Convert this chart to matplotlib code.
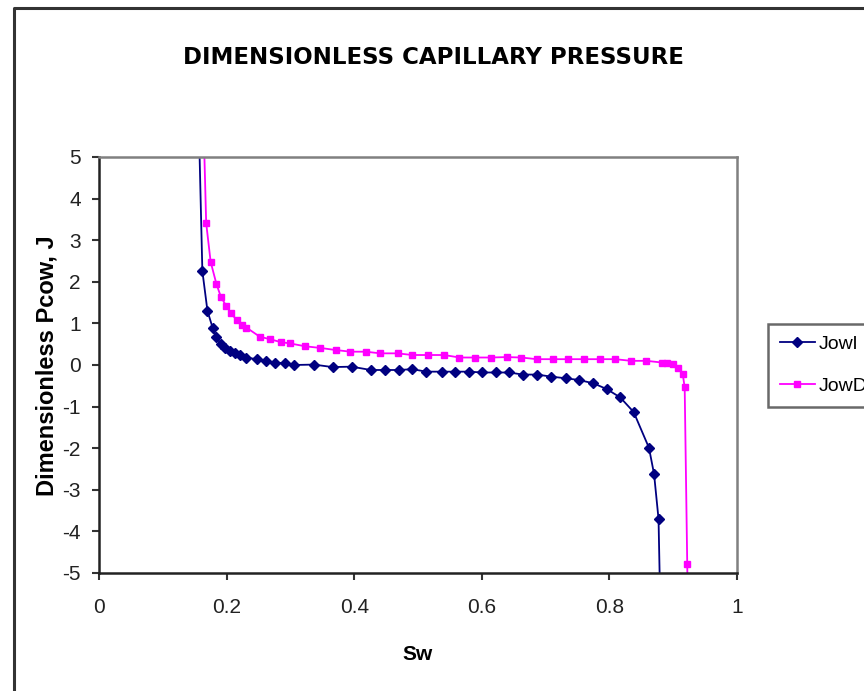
import matplotlib
matplotlib.use('Agg')
import matplotlib.pyplot as plt
from matplotlib.lines import Line2D

# Jowl (imbibition) curve
sw_i = [0.153, 0.162, 0.170, 0.178, 0.184, 0.191, 0.197, 0.205, 0.213, 0.221,
        0.230, 0.247, 0.261, 0.276, 0.292, 0.306, 0.337, 0.366, 0.396, 0.426,
        0.448, 0.470, 0.491, 0.513, 0.537, 0.558, 0.580, 0.601, 0.622, 0.643,
        0.664, 0.687, 0.709, 0.732, 0.752, 0.775, 0.796, 0.817, 0.838, 0.862,
        0.870, 0.877, 0.880]
j_i = [8.0, 2.26, 1.30, 0.90, 0.68, 0.50, 0.40, 0.34, 0.28, 0.24,
       0.18, 0.14, 0.10, 0.06, 0.04, 0.00, 0.01, -0.05, -0.04, -0.12,
       -0.12, -0.12, -0.10, -0.16, -0.16, -0.16, -0.16, -0.18, -0.18, -0.18,
       -0.23, -0.23, -0.28, -0.32, -0.36, -0.44, -0.58, -0.78, -1.13, -1.99,
       -2.62, -3.70, -6.0]

# JowD (drainage) curve
sw_d = [0.160, 0.168, 0.175, 0.184, 0.191, 0.199, 0.207, 0.216, 0.224, 0.231,
        0.252, 0.268, 0.285, 0.299, 0.323, 0.347, 0.371, 0.394, 0.418, 0.441,
        0.468, 0.491, 0.515, 0.541, 0.565, 0.589, 0.614, 0.639, 0.662, 0.686,
        0.712, 0.735, 0.760, 0.785, 0.809, 0.834, 0.858, 0.882, 0.890, 0.900,
        0.908, 0.915, 0.918, 0.922, 0.923]
j_d = [8.0, 3.41, 2.48, 1.95, 1.64, 1.43, 1.24, 1.08, 0.96, 0.90,
       0.68, 0.62, 0.55, 0.52, 0.45, 0.41, 0.36, 0.32, 0.32, 0.28,
       0.28, 0.24, 0.24, 0.24, 0.18, 0.18, 0.18, 0.19, 0.18, 0.14,
       0.14, 0.14, 0.14, 0.14, 0.14, 0.10, 0.10, 0.06, 0.06, 0.02,
       -0.08, -0.22, -0.54, -4.78, -6.0]

x_ticks = [0, 0.2, 0.4, 0.6, 0.8, 1]
y_ticks = [5, 4, 3, 2, 1, 0, -1, -2, -3, -4, -5]

W, H = 864, 691
fig = plt.figure(figsize=(W / 100, H / 100), dpi=100)
ax = fig.add_axes([99 / W, 1 - 573 / H, (737 - 99) / W, (573 - 157) / H])

l1, = ax.plot(sw_i, j_i, color='#000080', lw=1.3, marker='D', ms=5, label='Jowl')
l2, = ax.plot(sw_d, j_d, color='#FF00FF', lw=1.3, marker='s', ms=4.5, label='JowD')

ax.set_xlim(0, 1)
ax.set_ylim(-5, 5)
ax.set_xticks(x_ticks)
ax.set_xticklabels([f'{v:g}' for v in x_ticks])
ax.set_yticks(y_ticks)
ax.set_yticklabels([f'{v:g}' for v in y_ticks])

for lab in ax.get_xticklabels() + ax.get_yticklabels():
    lab.set_fontfamily('Liberation Sans')
    lab.set_fontsize(15)
ax.tick_params(direction='out', length=5, width=1.5, colors='#333333', labelcolor='#222222')
ax.tick_params(axis='x', pad=13)
ax.tick_params(axis='y', pad=8)

for s in ['left', 'bottom']:
    ax.spines[s].set_color('#222222')
    ax.spines[s].set_linewidth(1.8)
for s in ['top', 'right']:
    ax.spines[s].set_color('#808080')
    ax.spines[s].set_linewidth(1.8)

fig.text(433 / W, 1 - 57 / H, 'DIMENSIONLESS CAPILLARY PRESSURE', ha='center', va='center',
         fontsize=16.5, fontweight='bold', family='DejaVu Sans')
fig.text(418 / W, 1 - 655 / H, 'Sw', ha='center', va='center',
         fontsize=15, fontweight='bold', family='Liberation Sans')
fig.text(47 / W, 1 - 366 / H, 'Dimensionless Pcow, J', ha='center', va='center', rotation=90,
         fontsize=17, fontweight='bold', family='Liberation Sans')

leg = fig.legend(handles=[l1, l2], loc='upper left', bbox_to_anchor=(768 / W, 1 - 324 / H),
                 borderaxespad=0, frameon=True, fancybox=False,
                 prop=dict(family='Liberation Sans', size=14),
                 handlelength=1.8, borderpad=0.6, labelspacing=1.25, handletextpad=0.2)
leg.get_frame().set_edgecolor('#444444')
leg.get_frame().set_linewidth(1.8)

# outer chart frame (cut off at right and bottom)
fig.add_artist(Line2D([14 / W, 14 / W, 1.0], [0.0, 1 - 8 / H, 1 - 8 / H],
                      transform=fig.transFigure, color='#333333', lw=2.2))

fig.savefig('out.png', dpi=100)
